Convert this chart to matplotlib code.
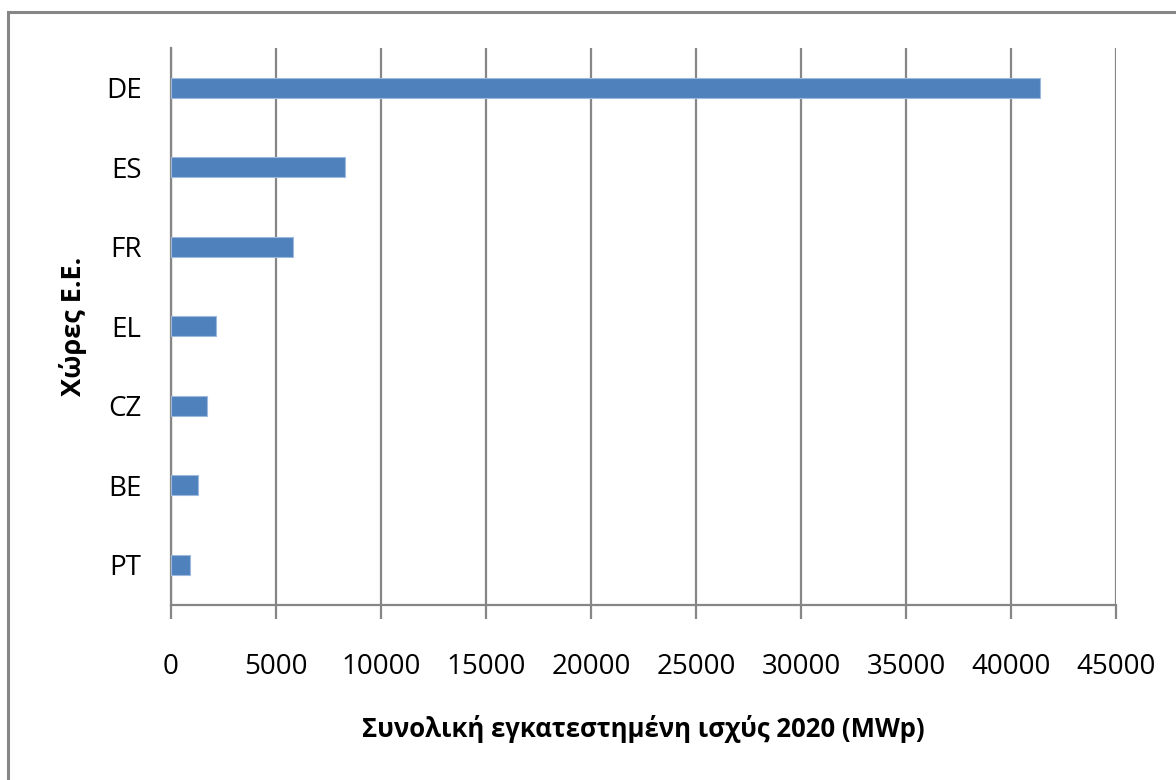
import matplotlib
matplotlib.use("Agg")
import matplotlib.pyplot as plt
from matplotlib.patches import Rectangle

# ---------- data: installed PV capacity 2020 (MWp) ----------
countries = ["DE", "ES", "FR", "EL", "CZ", "BE", "PT"]
capacity_mwp = [41380, 8310, 5835, 2140, 1710, 1285, 935]

x_ticks = [0, 5000, 10000, 15000, 20000, 25000, 30000, 35000, 40000, 45000]

BAR_COLOR = "#4F81BD"
LINE_COLOR = "#868686"

plt.rcParams["font.family"] = ["Open Sans", "DejaVu Sans"]

fig = plt.figure(figsize=(11.76, 7.80), dpi=100)
ax = fig.add_axes([0.1452, 0.2247, 0.8040, 0.7138])

# top category first
ypos = list(range(len(countries)))[::-1]
ax.barh(ypos, capacity_mwp, height=0.25, color=BAR_COLOR,
        edgecolor="#9DB9DE", linewidth=0.8, zorder=3)

ax.set_xlim(0, 45000)
ax.set_ylim(-0.5, len(countries) - 0.5)
ax.set_xticks(x_ticks)
ax.set_xticklabels([str(t) for t in x_ticks], fontsize=20)
ax.set_yticks(ypos)
ax.set_yticklabels(countries, fontsize=20)

ax.grid(axis="x", color=LINE_COLOR, linewidth=1.6, zorder=0)
ax.tick_params(axis="x", direction="out", length=10, width=1.6,
               color=LINE_COLOR, pad=25)
ax.tick_params(axis="y", length=0, pad=21)

for side in ["top", "right"]:
    ax.spines[side].set_visible(False)
for side in ["left", "bottom"]:
    ax.spines[side].set_color(LINE_COLOR)
    ax.spines[side].set_linewidth(1.6)

ax.set_xlabel("Συνολική εγκατεστημένη ισχύς 2020 (MWp)", fontsize=18.5,
              fontweight="bold", labelpad=24)
ax.set_ylabel("Χώρες Ε.Ε.", fontsize=19.5, fontweight="bold", labelpad=14)

# chart-area frame
fig.patches.append(Rectangle((8 / 1176, -0.2), 1.2, 0.2 + 1 - 12 / 780,
                             transform=fig.transFigure, fill=False,
                             edgecolor=LINE_COLOR, linewidth=2.2))

fig.savefig("out.png", dpi=100, facecolor="white")
